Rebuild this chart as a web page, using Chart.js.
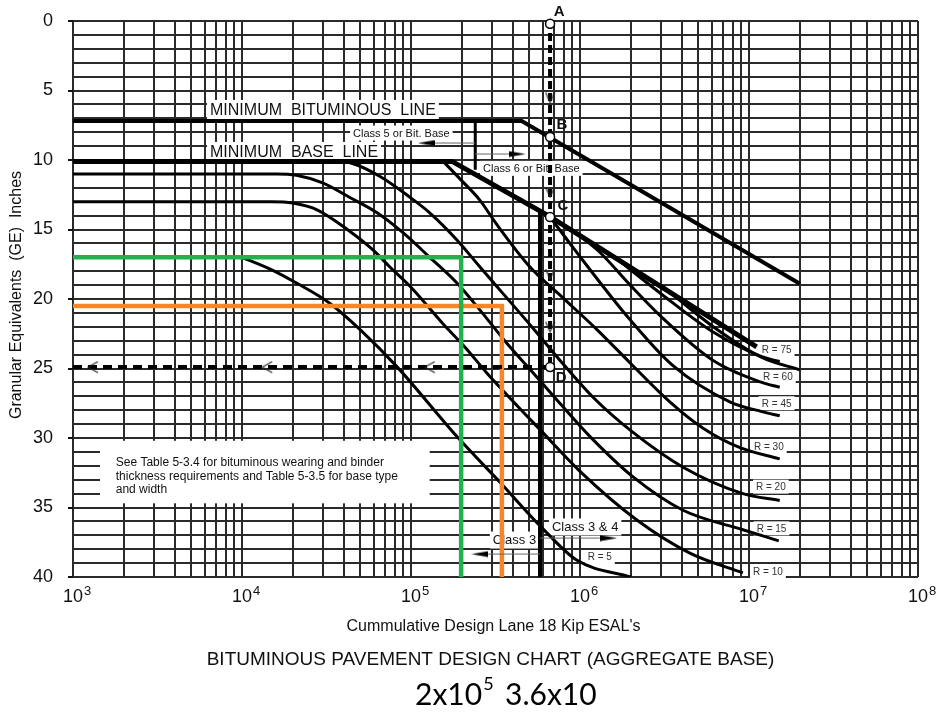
<!DOCTYPE html>
<html><head><meta charset="utf-8">
<script src="https://cdn.jsdelivr.net/npm/chart.js@4.4.1/dist/chart.umd.min.js"></script>
<style>html,body{margin:0;padding:0;background:#fff;}canvas{display:block;}</style>
</head><body>
<canvas id="c" width="939" height="713"></canvas>
<script>
// ---------------- DATA ----------------
const xTickExponents = [3, 4, 5, 6, 7, 8];
const yTickLabels = [0, 5, 10, 15, 20, 25, 30, 35, 40];

const minBitX = [1e3, 4.52e5, 2e7];
const minBitY = [7.2, 7.2, 18.9];
const minBaseX = [1e3, 1.75e5, 6.6e5, 1.11e7];
const minBaseY = [10.1, 10.1, 14.05, 23.45];
const extX = [3.1e6, 6e6, 1.19e7, 2e7];
const extY = [19.1, 21.9, 24.2, 25.1];
const r75X = [1.57e6, 3e6, 6e6, 1.19e7, 1.52e7];
const r75Y = [16.9, 19.6, 22.3, 24.15, 24.5];
const r60X = [9e5, 1.3e6, 1.98e6, 3.1e6, 6.1e6, 1.19e7, 1.52e7];
const r60Y = [15.05, 16.6, 19.0, 21.4, 24.4, 26.0, 26.35];
const r45X = [6.6e5, 9.1e5, 1.98e6, 3.55e6, 7.7e6, 1.19e7, 1.52e7];
const r45Y = [14.05, 16.3, 21.5, 24.8, 27.4, 28.1, 28.4];
const r30X = [1.55e5, 2.0e5, 2.56e5, 3.2e5, 5.06e5, 7.9e5, 1.26e6, 1.98e6, 3.4e6, 5.35e6, 8.85e6, 1.52e7];
const r30Y = [10.1, 11.5, 12.9, 14.6, 17.7, 19.9, 22.2, 24.6, 27.4, 29.3, 30.7, 31.5];
const r20X = [3.5e4, 4.5e4, 6.6e4, 9.9e4, 1.29e5, 1.87e5, 2.56e5, 5.27e5, 7.6e5, 1.19e6, 2.06e6, 4.07e6, 9.2e6, 1.52e7];
const r20Y = [10.1, 10.25, 11.2, 12.7, 13.8, 15.75, 17.7, 22.1, 24.4, 27.05, 29.6, 32.1, 34.0, 34.5];
const r15X = [1e3, 1.6e4, 2.1e4, 3.0e4, 4.35e4, 6.3e4, 9e4, 1.29e5, 1.87e5, 2.56e5, 3.7e5, 5.27e5, 7.6e5, 1.19e6, 2.06e6, 4.07e6, 9.2e6, 1.5e7];
const r15Y = [11.0, 11.0, 11.1, 11.65, 12.7, 13.8, 15.25, 17.0, 18.85, 20.8, 23.2, 25.3, 27.5, 30.1, 32.8, 35.2, 36.6, 37.4];
const r10X = [1e3, 1.5e4, 2e4, 2.8e4, 4.2e4, 6e4, 7.5e4, 9.9e4, 1.55e5, 2.1e5, 2.8e5, 3.7e5, 5.8e5, 1e6, 2.17e6, 4.5e6, 9.2e6];
const r10Y = [13.0, 13.0, 13.1, 13.6, 15.0, 16.5, 17.7, 19.1, 21.8, 23.5, 25.3, 26.9, 29.4, 32.4, 35.9, 38.3, 39.7];
const r5X = [1e4, 1.5e4, 2.1e4, 3.3e4, 5e4, 8.3e4, 1.87e5, 3.37e5, 6e5, 9.6e5, 2e6];
const r5Y = [17.0, 17.9, 18.85, 20.3, 22.2, 24.9, 29.9, 33.2, 36.5, 38.8, 40.0];

const classLineX = [5.8e5, 5.8e5];
const classLineY = [13.7, 40];
const class56X = [2.4e5, 2.4e5];
const class56Y = [7.2, 10.7];

const greenX = [1e3, 1.98e5, 1.98e5];
const greenY = [17.0, 17.0, 40];
const orangeX = [1e3, 3.45e5, 3.45e5];
const orangeY = [20.5, 20.5, 40];

const dashVX = [6.65e5, 6.65e5];
const dashVY = [0, 24.9];
const dashHX = [1e3, 6.65e5];
const dashHY = [24.9, 24.9];

const circleX = [6.65e5, 6.65e5, 6.65e5, 6.65e5];
const circleY = [0.2, 8.35, 14.1, 24.9];

const chevLeftX = [1.31e3, 1.41e4, 1.29e5];
const chevLeftY = [24.9, 24.9, 24.9];
const chevDownX = [6.65e5, 6.65e5, 6.65e5, 6.65e5];
const chevDownY = [5.5, 12.3, 18.2, 22.0];

const headLeftX = [1.236e5, 2.56e5];
const headLeftY = [8.78, 38.35];
const headRightX = [4.24e5, 1.476e6];
const headRightY = [9.57, 37.2];
const shaft5X = [1.39e5, 2.4e5];   const shaft5Y = [8.78, 8.78];
const shaft6X = [2.4e5, 3.8e5];    const shaft6Y = [9.57, 9.57];
const shaft3X = [2.86e5, 5.8e5];   const shaft3Y = [38.35, 38.35];
const shaft34X = [5.8e5, 1.31e6];  const shaft34Y = [37.2, 37.2];

// text annotations (anchor in data units: left edge, vertical centre)
const textNotes = [
  {text: 'MINIMUM  BITUMINOUS  LINE', x: 6.47e3, y: 6.4, size: 16},
  {text: 'MINIMUM  BASE  LINE', x: 6.47e3, y: 9.42, size: 16},
  {text: 'Class 5 or Bit. Base', x: 4.54e4, y: 8.06, size: 11},
  {text: 'Class 6 or Bit. Base', x: 2.67e5, y: 10.6, size: 11},
  {text: 'Class 3 & 4', x: 6.82e5, y: 36.4, size: 13},
  {text: 'Class 3', x: 3.05e5, y: 37.34, size: 13},
  {text: 'R = 75', x: 1.19e7, y: 23.67, size: 10},
  {text: 'R = 60', x: 1.21e7, y: 25.6, size: 10},
  {text: 'R = 45', x: 1.19e7, y: 27.5, size: 10},
  {text: 'R = 30', x: 1.07e7, y: 30.65, size: 10},
  {text: 'R = 20', x: 1.1e7, y: 33.5, size: 10},
  {text: 'R = 15', x: 1.11e7, y: 36.5, size: 10},
  {text: 'R = 10', x: 1.057e7, y: 39.6, size: 10},
  {text: 'R = 5', x: 1.11e6, y: 38.56, size: 10}
];
const noteBox = {x0: 1.445e3, x1: 1.29e5, y0: 30.2, y1: 34.7};
const noteLines = [
  {text: 'See Table 5-3.4 for bituminous wearing and binder', x: 1.79e3, y: 31.8},
  {text: 'thickness requirements and Table 5-3.5 for base type', x: 1.79e3, y: 32.8},
  {text: 'and width', x: 1.79e3, y: 33.72}
];
const pointLetters = [
  {text: 'A', x: 7.52e5, y: -0.65},
  {text: 'B', x: 7.82e5, y: 7.48},
  {text: 'C', x: 7.92e5, y: 13.3},
  {text: 'D', x: 7.73e5, y: 25.7}
];
const xTitle = "Cummulative Design Lane 18 Kip ESAL's";
const yTitle = 'Granular Equivalents  (GE)  Inches';
const chartTitle = 'BITUMINOUS PAVEMENT DESIGN CHART (AGGREGATE BASE)';
const footA = '2x10', footAExp = '5', footB = '3.6x10';

// ---------------- HELPERS ----------------
const FONT = '"Liberation Sans", Arial, Helvetica, sans-serif';
const pts = (xs, ys) => xs.map((x, i) => ({x, y: ys[i]}));

// grid positions (1..9 x each decade, every inch)
const xGrid = [];
for (let e = 3; e < 8; e++) for (let m = 1; m <= 9; m++) xGrid.push(m * Math.pow(10, e));
xGrid.push(1e8);
const yGrid = [];
for (let v = 0; v <= 40; v++) yGrid.push(v);

function makeImg(w, h, draw) {
  const c = document.createElement('canvas');
  c.width = w; c.height = h;
  const g = c.getContext('2d');
  draw(g);
  return c;
}
const imgChevLeft = makeImg(12, 13, g => {
  g.strokeStyle = '#222'; g.lineWidth = 1.1;
  g.beginPath(); g.moveTo(11, 1); g.lineTo(1, 6.5); g.lineTo(11, 12); g.stroke();
});
const imgChevDown = makeImg(11, 12, g => {
  g.strokeStyle = '#222'; g.lineWidth = 1.1;
  g.beginPath(); g.moveTo(1, 1); g.lineTo(5.5, 11); g.lineTo(10, 1); g.stroke();
});
const imgHeadLeft = makeImg(17, 7, g => {
  g.fillStyle = '#000';
  g.beginPath(); g.moveTo(0, 3.5); g.lineTo(17, 0.5); g.lineTo(17, 6.5); g.closePath(); g.fill();
});
const imgHeadRight = makeImg(17, 7, g => {
  g.fillStyle = '#000';
  g.beginPath(); g.moveTo(17, 3.5); g.lineTo(0, 0.5); g.lineTo(0, 6.5); g.closePath(); g.fill();
});

function lineDs(xs, ys, width, opts) {
  return Object.assign({
    data: pts(xs, ys), borderColor: '#000', borderWidth: width, pointRadius: 0,
    tension: 0, fill: false, borderJoinStyle: 'miter', borderCapStyle: 'butt'
  }, opts || {});
}
function curveDs(xs, ys, width) {
  return lineDs(xs, ys, width, {cubicInterpolationMode: 'monotone', borderJoinStyle: 'round'});
}
function pointDs(xs, ys, style, opts) {
  return Object.assign({
    data: pts(xs, ys), showLine: false, pointStyle: style, pointRadius: 6,
    borderWidth: 0, clip: false
  }, opts || {});
}

const datasets = [
  pointDs(circleX, circleY, 'circle', {pointRadius: 4.5, pointBackgroundColor: '#fff', pointBorderColor: '#000', pointBorderWidth: 1.5}),
  pointDs(chevLeftX, chevLeftY, imgChevLeft),
  pointDs(chevDownX, chevDownY, imgChevDown),
  pointDs(headLeftX, headLeftY, imgHeadLeft),
  pointDs(headRightX, headRightY, imgHeadRight),
  lineDs(shaft5X, shaft5Y, 1, {borderColor: '#666'}),
  lineDs(shaft6X, shaft6Y, 1, {borderColor: '#666'}),
  lineDs(shaft3X, shaft3Y, 1, {borderColor: '#666'}),
  lineDs(shaft34X, shaft34Y, 1, {borderColor: '#666'}),
  lineDs(dashVX, dashVY, 4, {borderDash: [8, 4], clip: false}),
  lineDs(dashHX, dashHY, 4, {borderDash: [9, 6]}),
  lineDs(greenX, greenY, 4.5, {borderColor: '#22b14c'}),
  lineDs(orangeX, orangeY, 4.5, {borderColor: '#f7862a'}),
  lineDs(classLineX, classLineY, 4),
  lineDs(class56X, class56Y, 3),
  lineDs(minBitX, minBitY, 4),
  lineDs(minBaseX, minBaseY, 5),
  curveDs(extX, extY, 3),
  curveDs(r75X, r75Y, 3),
  curveDs(r60X, r60Y, 3),
  curveDs(r45X, r45Y, 3),
  curveDs(r30X, r30Y, 3),
  curveDs(r20X, r20Y, 3),
  curveDs(r15X, r15Y, 3),
  curveDs(r10X, r10Y, 3),
  curveDs(r5X, r5Y, 3)
];

const annotPlugin = {
  id: 'annot',
  beforeDatasetsDraw(chart) {
    const ctx = chart.ctx, xs = chart.scales.x, ys = chart.scales.y;
    ctx.save();
    const bx0 = xs.getPixelForValue(noteBox.x0), bx1 = xs.getPixelForValue(noteBox.x1);
    const by0 = ys.getPixelForValue(noteBox.y0), by1 = ys.getPixelForValue(noteBox.y1);
    ctx.fillStyle = '#fff';
    ctx.fillRect(bx0, by0, bx1 - bx0, by1 - by0);
    ctx.font = '12px ' + FONT;
    ctx.fillStyle = '#111'; ctx.textAlign = 'left'; ctx.textBaseline = 'middle';
    noteLines.forEach(l => ctx.fillText(l.text, xs.getPixelForValue(l.x), ys.getPixelForValue(l.y)));
    textNotes.forEach(t => {
      ctx.font = t.size + 'px ' + FONT;
      const x = xs.getPixelForValue(t.x), y = ys.getPixelForValue(t.y);
      const w = ctx.measureText(t.text).width;
      ctx.fillStyle = '#fff';
      ctx.fillRect(x - 3, y - t.size / 2 - 2, w + 6, t.size + 4);
      ctx.fillStyle = t.size <= 10 ? '#333' : '#111';
      ctx.textAlign = 'left'; ctx.textBaseline = 'middle';
      ctx.fillText(t.text, x, y + 0.5);
    });
    ctx.restore();
  },
  afterDatasetsDraw(chart) {
    const ctx = chart.ctx, xs = chart.scales.x, ys = chart.scales.y, a = chart.chartArea;
    ctx.save();
    ctx.fillStyle = '#111'; ctx.textBaseline = 'middle'; ctx.textAlign = 'center';
    ctx.font = 'bold 15px ' + FONT;
    pointLetters.forEach(p => ctx.fillText(p.text, xs.getPixelForValue(p.x), ys.getPixelForValue(p.y)));
    ctx.textBaseline = 'alphabetic';
    xTickExponents.forEach(e => {
      const x = xs.getPixelForValue(Math.pow(10, e));
      ctx.font = '18px ' + FONT;
      const w = ctx.measureText('10').width;
      ctx.textAlign = 'center';
      ctx.fillText('10', x, a.bottom + 25);
      ctx.font = '13px ' + FONT;
      ctx.textAlign = 'left';
      ctx.fillText(String(e), x + w / 2 + 1, a.bottom + 18);
    });
    ctx.textAlign = 'center'; ctx.textBaseline = 'middle';
    ctx.font = '16px ' + FONT;
    ctx.fillText(xTitle, (a.left + a.right) / 2 - 2, a.bottom + 50);
    ctx.font = '19px ' + FONT;
    ctx.fillText(chartTitle, (a.left + a.right) / 2 - 5, a.bottom + 83);
    ctx.save();
    ctx.translate(17, (a.top + a.bottom) / 2 - 4);
    ctx.rotate(-Math.PI / 2);
    ctx.font = '16px ' + FONT;
    ctx.fillText(yTitle, 0, 0);
    ctx.restore();
    ctx.textAlign = 'left'; ctx.textBaseline = 'alphabetic';
    ctx.fillStyle = '#000';
    ctx.font = '30px Lato, "Open Sans", sans-serif';
    ctx.fillText(footA, 415, a.bottom + 128);
    const wA = ctx.measureText(footA).width;
    ctx.fillText(footB, 505, a.bottom + 128);
    ctx.font = '18px Lato, "Open Sans", sans-serif';
    ctx.fillText(footAExp, 415 + wA + 1, a.bottom + 113);
    ctx.restore();
  }
};

new Chart(document.getElementById('c'), {
  type: 'line',
  data: {datasets},
  plugins: [annotPlugin],
  options: {
    responsive: false,
    animation: false,
    events: [],
    layout: {padding: {left: 0, right: 21, top: 21, bottom: 136}},
    plugins: {legend: {display: false}, tooltip: {enabled: false}, title: {display: false}},
    elements: {point: {radius: 0}},
    scales: {
      x: {
        type: 'logarithmic', min: 1e3, max: 1e8,
        afterBuildTicks: s => { s.ticks = xGrid.map(v => ({value: v})); },
        ticks: {display: false, callback: () => ''},
        grid: {color: '#2a2a2a', lineWidth: 2, drawTicks: false},
        border: {display: false}
      },
      y: {
        type: 'linear', reverse: true, min: 0, max: 40,
        afterBuildTicks: s => { s.ticks = yGrid.map(v => ({value: v})); },
        afterFit: s => { s.width = 73; s.paddingTop = 0; s.paddingBottom = 0; },
        ticks: {
          autoSkip: false, padding: 15, color: '#111',
          font: {size: 18, family: FONT},
          callback: v => yTickLabels.includes(v) ? String(v) : ''
        },
        grid: {
          color: '#2a2a2a', lineWidth: 2, tickLength: 5,
          tickColor: c => (c.tick && yTickLabels.includes(c.tick.value)) ? '#111' : 'rgba(0,0,0,0)'
        },
        border: {display: false}
      }
    }
  }
});
</script>
</body></html>
